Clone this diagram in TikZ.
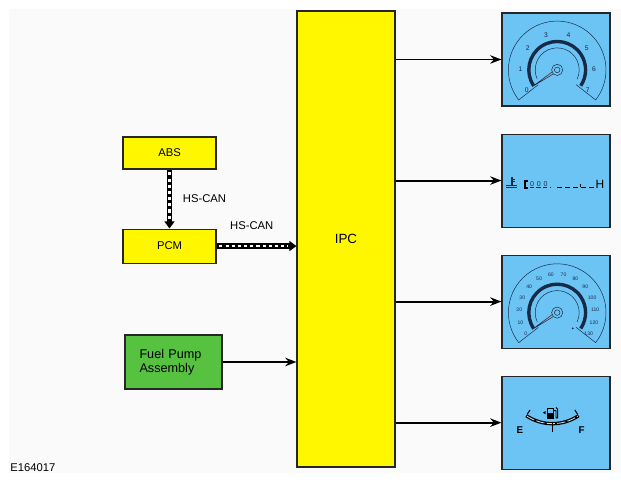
\documentclass[tikz,border=0pt]{standalone}
\usepackage{fontspec}
\setmainfont{Liberation Sans}
\usepackage{xcolor}
\usepackage{tikz}
\usetikzlibrary{arrows, arrows.meta}
\usetikzlibrary{positioning}
\definecolor{ipcyellow}{RGB}{255,247,0}
\definecolor{pumpgreen}{RGB}{86,194,64}
\definecolor{dialblue}{RGB}{108,196,245}
\definecolor{gaugeink}{RGB}{22,42,72}
\definecolor{paper}{RGB}{250,250,250}
\tikzstyle{arrow} = [line width=1.4pt,-{Stealth[length=8pt,width=6pt]}]
\tikzstyle{canbus} = [line width=4pt,-{Triangle[length=5pt,width=7pt]}]
\tikzstyle{canbits} = [white, line width=1.6pt, dash pattern=on 2.2pt off 2.2pt]
\tikzstyle{unit} = [draw=black!85, line width=0.75pt, text centered, font=\fontsize{8}{9.6}\selectfont]
\tikzstyle{dial} = [draw=black!85, line width=0.75pt, fill=dialblue, minimum width=2.7cm, minimum height=2.325cm]
\tikzstyle{ink} = [draw=gaugeink, line width=0.35pt]

\begin{document}
\begin{tikzpicture}
  \useasboundingbox (0,0) rectangle (15.525,12.05);
  \fill[paper] (0.225,0.225) rectangle (15.525,11.825);
  % control units
  \node[unit, fill=ipcyellow, minimum width=2.45cm, minimum height=11.4cm, font=\fontsize{9.5}{11}\selectfont] (ipc) at (8.65,6.075) {IPC};
  \node[unit, fill=ipcyellow, minimum width=2.325cm, minimum height=0.8cm] (abs) at (4.2375,8.225) {ABS};
  \node[unit, fill=ipcyellow, minimum width=2.325cm, minimum height=0.85cm, below=1.475cm of abs] (pcm) {PCM};
  \node[unit, fill=pumpgreen, minimum height=1.35cm, text width=1.7cm, inner xsep=0.3625cm, align=left, font=\fontsize{9}{10}\selectfont] (pump) at (4.3375,3.0) {Fuel Pump\\Assembly};
  \node[font=\fontsize{8}{9.6}\selectfont, anchor=base west, inner sep=0pt] (fig) at (0.25,0.26) {E164017};
  % instrument dials
  \node[dial] (g1) at (13.9,10.5625) {};
  \node[dial, below=0.675cm of g1] (g2) {};
  \node[dial, below=0.675cm of g2] (g3) {};
  \node[dial, below=0.675cm of g3] (g4) {};
  % connections
  \draw[canbus] (abs.south) -- (pcm.north) node[midway, right=0.15cm, font=\fontsize{8}{9.6}\selectfont] (canlabel1) {HS-CAN};
  \draw[canbits, shorten <=2pt, shorten >=6pt] (abs.south) -- (pcm.north);
  \draw[canbus] (pcm.east) -- (pcm.east -| ipc.west) node[midway, above=0.22cm, xshift=-0.12cm, font=\fontsize{8}{9.6}\selectfont] (canlabel2) {HS-CAN};
  \draw[canbits, shorten <=2pt, shorten >=6pt] (pcm.east) -- (pcm.east -| ipc.west);
  \draw[arrow] (pump.east) -- (pump.east -| ipc.west);
  \foreach \g in {g1,g2,g3,g4}
    \draw[arrow] (ipc.east |- \g.west) -- (\g.west);
  % tachometer
  \begin{scope}[shift={(g1.center)}]
    \coordinate (tachhub) at (0.03,-0.26);
    \draw[ink] (tachhub) ++(218:0.6) -- ++(218:0.62) arc (218:-38:1.22) -- ++(142:0.62);
    \draw[ink] (tachhub) ++(205:0.55) arc (205:-25:0.55);
    \draw[gaugeink, line width=2.4pt] (tachhub) ++(214:0.71) arc (214:-34:0.71);
    \foreach \n in {0,...,7}
      \node[text=gaugeink, inner sep=0pt, font=\fontsize{4.8}{5}\selectfont] (tach\n) at ([shift={({214-\n*248/7}:0.92)}]tachhub) {\n};
    \draw[ink, fill=gaugeink!40] ([shift={(124:0.035)}]tachhub) -- ([shift={(214:0.75)}]tachhub) -- ([shift={(304:0.035)}]tachhub) -- cycle;
    \draw[ink, fill=dialblue] (tachhub) circle (0.14);
    \draw[ink] (tachhub) circle (0.07);
  \end{scope}
  % temperature
  \begin{scope}[shift={(g2.center)}]
    \draw[gaugeink, line width=0.9pt] (-1.1,-0.14) -- (-1.1,0.1);
    \draw[gaugeink, line width=0.5pt] (-1.1,-0.02) -- (-1.03,-0.02) (-1.1,0.04) -- (-1.03,0.04);
    \draw[gaugeink, line width=0.7pt] (-1.24,-0.13) -- (-0.97,-0.13);
    \draw[gaugeink, line width=0.4pt] (-1.24,-0.18) -- (-0.97,-0.18);
    \draw[black, line width=1.7pt] (-0.71,-0.01) -- (-0.78,-0.01) -- (-0.78,-0.19) -- (-0.71,-0.19);
    \foreach \k in {0,1,2}
      \node[text=gaugeink, inner sep=0pt, font=\fontsize{5}{5}\selectfont] (tempd\k) at (-0.6+\k*0.17,-0.08) {0};
    \draw[gaugeink, line width=0.5pt, dash pattern=on 3pt off 1.8pt] (-0.66,-0.16) -- (-0.14,-0.16);
    \draw[black, line width=0.8pt, dash pattern=on 3.5pt off 2.2pt] (0.03,-0.17) -- (0.98,-0.17);
    \draw[black, line width=0.6pt] (0.6,-0.17) -- (0.6,-0.08);
    \node[inner sep=0pt, font=\fontsize{8.5}{9}\selectfont] (temphot) at (1.1,-0.1) {H};
  \end{scope}
  % speedometer
  \begin{scope}[shift={(g3.center)}]
    \coordinate (speedhub) at (0.03,-0.275);
    \draw[ink] (speedhub) ++(218:0.6) -- ++(218:0.62) arc (218:-38:1.22) -- ++(142:0.62);
    \draw[ink] (speedhub) ++(205:0.55) arc (205:-25:0.55);
    \draw[gaugeink, line width=2.4pt] (speedhub) ++(214:0.71) arc (214:-34:0.71);
    \foreach \n [evaluate=\n as \v using int(10*\n)] in {0,...,13}
      \node[text=gaugeink, inner sep=0pt, font=\fontsize{3.6}{4}\selectfont] (speed\n) at ([shift={({214-\n*248/13}:0.95)}]speedhub) {\v};
    \draw[ink, fill=gaugeink!40] ([shift={(124:0.035)}]speedhub) -- ([shift={(214:0.75)}]speedhub) -- ([shift={(304:0.035)}]speedhub) -- cycle;
    \draw[ink, fill=dialblue] (speedhub) circle (0.14);
    \draw[ink] (speedhub) circle (0.07);
    \fill[gaugeink] (0.42,-0.67) circle (0.025);
  \end{scope}
  % fuel level
  \begin{scope}[shift={(g4.center)}]
    \coordinate (fuelarc) at (-0.09,1.145);
    \draw[black, line width=2.4pt] (fuelarc) ++(236:1.17) arc (236:304:1.17);
    \draw[dialblue!50!white, line width=0.6pt, dash pattern=on 6pt off 1.5pt] (fuelarc) ++(237:1.17) arc (237:303:1.17);
    \draw[black, line width=1pt] (fuelarc) ++(270:1.15) -- ++(270:0.23);
    \draw[black, line width=0.8pt] (fuelarc) ++(236:1.12) -- ++(236:-0.12);
    \draw[black, line width=0.8pt] (fuelarc) ++(304:1.12) -- ++(304:-0.12);
    \node[inner sep=0pt, font=\bfseries\fontsize{7}{8}\selectfont] (fuelempty) at (-0.9,-0.19) {E};
    \node[inner sep=0pt, font=\bfseries\fontsize{7}{8}\selectfont] (fuelfull) at (0.64,-0.19) {F};
    \fill[black] (-0.22,0.08) rectangle (-0.05,0.37);
    \fill[dialblue] (-0.19,0.24) rectangle (-0.08,0.33);
    \draw[black, line width=0.6pt] (-0.05,0.3) -- (0.0,0.3) -- (0.0,0.12) -- (0.04,0.12) -- (0.04,0.34) -- (0.0,0.38);
    \fill[black] (-0.26,0.29) -- (-0.33,0.25) -- (-0.26,0.21) -- cycle;
  \end{scope}
\end{tikzpicture}
\end{document}
